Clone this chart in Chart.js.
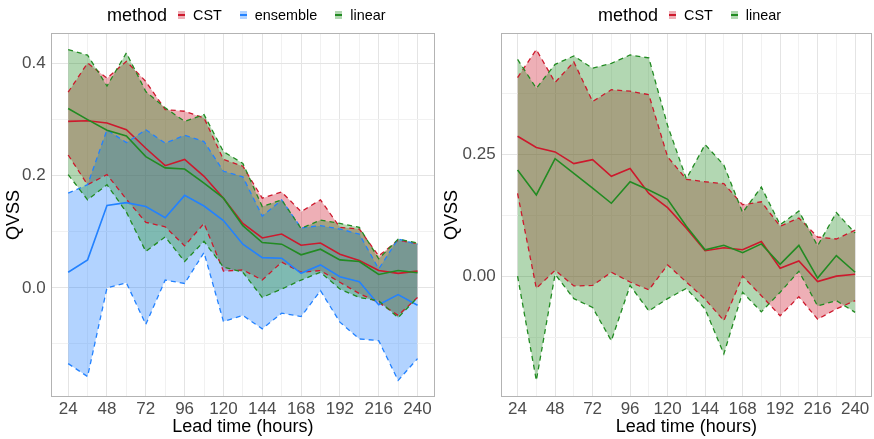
<!DOCTYPE html>
<html>
<head>
<meta charset="utf-8">
<script src="https://cdn.jsdelivr.net/npm/chart.js@4.4.1/dist/chart.umd.min.js"></script>
<style>
  body { margin: 0; background: #fff; font-family: "Liberation Sans", Arial, sans-serif; }
  #wrap { position: relative; width: 874px; height: 439px; overflow: hidden; }
  .panel { position: absolute; top: 0; width: 437px; height: 439px; }
  .legend { position: absolute; top: 4px; height: 22px; display: flex; align-items: center; white-space: nowrap; color: #000; font-size: 14.4px; }
  .legend .ltitle { font-size: 18px; margin-right: 11px; }
  .legend .key { position: relative; width: 7px; height: 8px; margin-right: 8px; }
  .legend .key::after { content: ''; position: absolute; left: 0; right: 0; top: 3px; height: 2px; background: var(--c); }
  .legend .lab { margin-right: 18px; }
</style>
</head>
<body>
<div id="wrap">
  <div class="panel" style="left:0"><canvas id="left" width="437" height="439"></canvas></div>
  <div class="panel" style="left:437px"><canvas id="right" width="437" height="439"></canvas></div>
  <div class="legend" id="legend-left" style="left:107px"></div>
  <div class="legend" id="legend-right" style="left:598px"></div>
</div>
<script>
// ---------- Data ----------

const leadTimes = [24, 36, 48, 60, 72, 84, 96, 108, 120, 132, 144, 156, 168, 180, 192, 204, 216, 228, 240];

// tick labels
const xTickLabels = [24, 48, 72, 96, 120, 144, 168, 192, 216, 240];
const leftYTicks = [0, 0.2, 0.4];
const leftYLabels = ['0.0', '0.2', '0.4'];
const leftYMinor = [-0.1, 0.1, 0.3];
const rightYTicks = [0, 0.25];
const rightYLabels = ['0.00', '0.25'];
const rightYMinor = [-0.125, 0.125, 0.375];

// left panel: CST, ensemble, linear
const leftCstMedian = [0.297, 0.298, 0.294, 0.282, 0.249, 0.218, 0.229, 0.199, 0.160, 0.115, 0.089, 0.096, 0.076, 0.080, 0.060, 0.049, 0.031, 0.026, 0.030];
const leftCstUpper = [0.349, 0.401, 0.374, 0.404, 0.368, 0.318, 0.315, 0.303, 0.229, 0.217, 0.160, 0.171, 0.136, 0.157, 0.108, 0.105, 0.057, 0.085, 0.079];
const leftCstLower = [0.237, 0.184, 0.202, 0.158, 0.117, 0.109, 0.075, 0.115, 0.030, 0.032, 0.014, 0.046, 0.028, 0.031, 0.010, -0.010, -0.026, -0.049, -0.017];

const leftEnsMedian = [0.028, 0.050, 0.147, 0.152, 0.145, 0.125, 0.165, 0.146, 0.120, 0.078, 0.054, 0.053, 0.026, 0.041, 0.020, 0.011, -0.030, -0.012, -0.031];
const leftEnsUpper = [0.169, 0.184, 0.282, 0.259, 0.282, 0.258, 0.272, 0.261, 0.208, 0.198, 0.128, 0.157, 0.107, 0.111, 0.105, 0.096, 0.034, 0.087, 0.078];
const leftEnsLower = [-0.135, -0.158, 0.000, 0.009, -0.065, 0.014, 0.008, 0.063, -0.060, -0.049, -0.073, -0.045, -0.051, -0.005, -0.061, -0.091, -0.094, -0.165, -0.126];

const leftLinMedian = [0.320, 0.300, 0.281, 0.271, 0.234, 0.214, 0.212, 0.187, 0.160, 0.111, 0.081, 0.078, 0.059, 0.069, 0.050, 0.047, 0.024, 0.031, 0.027];
const leftLinUpper = [0.425, 0.415, 0.360, 0.419, 0.350, 0.321, 0.297, 0.309, 0.243, 0.222, 0.145, 0.157, 0.106, 0.121, 0.115, 0.108, 0.052, 0.087, 0.080];
const leftLinLower = [0.202, 0.157, 0.184, 0.135, 0.065, 0.091, 0.047, 0.083, 0.037, 0.028, -0.017, -0.002, 0.014, 0.028, -0.002, -0.017, -0.023, -0.053, -0.017];

// right panel: CST, linear
const rightCstMedian = [0.287, 0.264, 0.255, 0.231, 0.239, 0.205, 0.221, 0.170, 0.141, 0.099, 0.053, 0.059, 0.055, 0.072, 0.017, 0.032, -0.010, 0.001, 0.005];
const rightCstUpper = [0.407, 0.464, 0.397, 0.439, 0.358, 0.382, 0.379, 0.372, 0.245, 0.199, 0.194, 0.190, 0.147, 0.153, 0.103, 0.120, 0.081, 0.077, 0.095];
const rightCstLower = [0.170, -0.024, 0.013, -0.019, -0.018, 0.009, -0.011, -0.027, 0.024, -0.011, -0.046, -0.090, 0.001, -0.039, -0.080, -0.041, -0.087, -0.066, -0.049];

const rightLinMedian = [0.218, 0.167, 0.241, 0.211, 0.181, 0.150, 0.194, 0.177, 0.158, 0.103, 0.055, 0.064, 0.049, 0.067, 0.025, 0.064, -0.003, 0.043, 0.009];
const rightLinUpper = [0.444, 0.385, 0.434, 0.451, 0.426, 0.436, 0.453, 0.447, 0.309, 0.200, 0.270, 0.228, 0.131, 0.183, 0.106, 0.134, 0.063, 0.131, 0.089];
const rightLinLower = [0.001, -0.212, 0.005, -0.045, -0.063, -0.131, -0.018, -0.070, -0.045, -0.024, -0.066, -0.158, -0.032, -0.072, -0.032, 0.011, -0.060, -0.049, -0.073];

// ---------- Style ----------

const FONT = '"Liberation Sans", Arial, sans-serif';
const COLORS = {
  CST: [205, 25, 45],
  ensemble: [35, 130, 255],
  linear: [34, 139, 34],
};
const FILL_ALPHA = 0.35;

const rgb = c => `rgb(${c[0]}, ${c[1]}, ${c[2]})`;
const rgba = (c, a) => `rgba(${c[0]}, ${c[1]}, ${c[2]}, ${a})`;
const pts = arr => arr.map((y, i) => ({ x: leadTimes[i], y }));

function methodDatasets(name, median, upper, lower, order) {
  const c = COLORS[name];
  return [
    {
      label: name + ' upper', data: pts(upper), order,
      borderColor: rgb(c), borderWidth: 1.3, borderDash: [5, 4],
      backgroundColor: rgba(c, FILL_ALPHA), fill: '+1',
    },
    {
      label: name + ' lower', data: pts(lower), order,
      borderColor: rgb(c), borderWidth: 1.3, borderDash: [5, 4], fill: false,
    },
    {
      label: name, data: pts(median), order,
      borderColor: rgb(c), borderWidth: 1.6, fill: false,
    },
  ];
}

// panel border drawn on top, like ggplot's panel.border
const panelBorder = {
  id: 'panelBorder',
  afterDatasetsDraw(chart) {
    const { ctx, chartArea: a } = chart;
    ctx.save();
    ctx.strokeStyle = '#b3b3b3';
    ctx.lineWidth = 1;
    ctx.strokeRect(Math.round(a.left) + 0.5, Math.round(a.top) + 0.5,
      Math.round(a.right - a.left) - 1, Math.round(a.bottom - a.top) - 1);
    ctx.restore();
  },
};

const near = (v, list) => list.findIndex(t => Math.abs(t - v) < 1e-9);

function makeChart(canvasId, datasets, yCfg) {
  const yAll = yCfg.minor.concat(yCfg.major).sort((a, b) => a - b);
  return new Chart(document.getElementById(canvasId), {
    type: 'line',
    data: { datasets },
    plugins: [panelBorder],
    options: {
      responsive: false,
      animation: false,
      devicePixelRatio: 1,
      layout: { padding: { top: 33, right: 2, left: 0, bottom: 0 } },
      elements: { point: { radius: 0 }, line: { tension: 0 } },
      plugins: {
        legend: { display: false },
        tooltip: { enabled: false },
        filler: { drawTime: 'beforeDatasetsDraw' },
      },
      scales: {
        x: {
          type: 'linear',
          min: 13.2,
          max: 250.8,
          afterBuildTicks: s => { s.ticks = leadTimes.map(v => ({ value: v })); },
          afterFit: s => { s.height = 42; },
          border: { display: false },
          grid: {
            drawTicks: false,
            color: ctx => (ctx.tick && xTickLabels.includes(ctx.tick.value)) ? '#e4e4e4' : '#f1f1f1',
          },
          ticks: {
            autoSkip: false,
            maxRotation: 0,
            padding: 2,
            color: '#4d4d4d',
            font: { family: FONT, size: 17 },
            callback: v => xTickLabels.includes(v) ? String(v) : '',
          },
          title: {
            display: true,
            text: 'Lead time (hours)',
            color: '#000',
            font: { family: FONT, size: 18 },
            padding: { top: 0, bottom: 1 },
          },
        },
        y: {
          min: yCfg.min,
          max: yCfg.max,
          afterBuildTicks: s => { s.ticks = yAll.map(v => ({ value: v })); },
          afterFit: s => { s.width = yCfg.width; },
          border: { display: false },
          grid: {
            drawTicks: false,
            color: ctx => (ctx.tick && near(ctx.tick.value, yCfg.major) >= 0) ? '#e4e4e4' : '#f1f1f1',
          },
          ticks: {
            padding: 5,
            color: '#4d4d4d',
            font: { family: FONT, size: 17 },
            callback: v => {
              const i = near(v, yCfg.major);
              return i >= 0 ? yCfg.labels[i] : '';
            },
          },
          title: {
            display: true,
            text: 'QVSS',
            color: '#000',
            font: { family: FONT, size: 18 },
            padding: { top: yCfg.titlePad, bottom: 0 },
          },
        },
      },
    },
  });
}

function buildLegend(elId, names) {
  const el = document.getElementById(elId);
  const t = document.createElement('span');
  t.className = 'ltitle';
  t.textContent = 'method';
  el.appendChild(t);
  for (const n of names) {
    const k = document.createElement('span');
    k.className = 'key';
    k.style.background = rgba(COLORS[n], FILL_ALPHA);
    k.style.setProperty('--c', rgb(COLORS[n]));
    const l = document.createElement('span');
    l.className = 'lab';
    l.textContent = n;
    el.append(k, l);
  }
}

// ---------- Render ----------

makeChart('left', [
  ...methodDatasets('CST', leftCstMedian, leftCstUpper, leftCstLower, 3),
  ...methodDatasets('ensemble', leftEnsMedian, leftEnsUpper, leftEnsLower, 2),
  ...methodDatasets('linear', leftLinMedian, leftLinUpper, leftLinLower, 1),
], { min: -0.1945, max: 0.4545, major: leftYTicks, labels: leftYLabels, minor: leftYMinor, width: 50.7, titlePad: 3 });

makeChart('right', [
  ...methodDatasets('CST', rightCstMedian, rightCstUpper, rightCstLower, 2),
  ...methodDatasets('linear', rightLinMedian, rightLinUpper, rightLinLower, 1),
], { min: -0.246, max: 0.498, major: rightYTicks, labels: rightYLabels, minor: rightYMinor, width: 63.7, titlePad: 4 });

buildLegend('legend-left', ['CST', 'ensemble', 'linear']);
buildLegend('legend-right', ['CST', 'linear']);
</script>
</body>
</html>
